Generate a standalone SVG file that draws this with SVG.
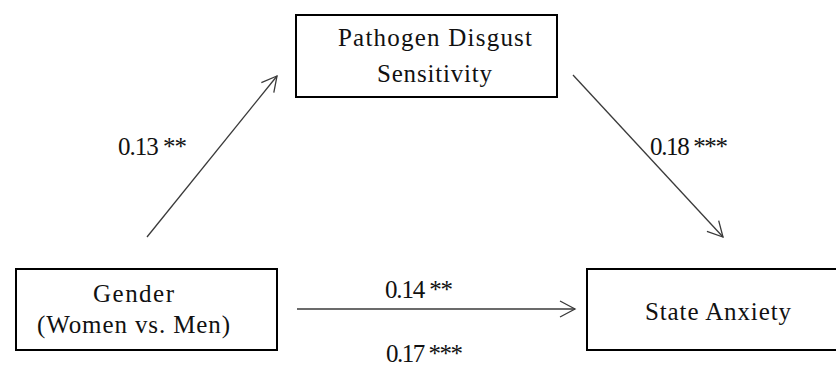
<svg xmlns="http://www.w3.org/2000/svg" width="836" height="367" viewBox="0 0 836 367">
<style>
.box{fill:#fff;stroke:#000;stroke-width:2}
.t{font-family:"Liberation Serif","Times New Roman",serif;font-size:25px;fill:#111}
.c{fill:none;stroke:#3a3a3a;stroke-width:1.3}
</style>
<defs>
<marker id="ah" markerUnits="userSpaceOnUse" markerWidth="20" markerHeight="20" refX="0" refY="0" viewBox="-16 -10 18 20" orient="auto">
<path d="M-15,-8 L0,0 L-15,8" fill="none" stroke="#3a3a3a" stroke-width="1.3"/>
</marker>
</defs>
<rect width="836" height="367" fill="#fff"/>
<g id="connectors">
<line class="c" x1="147" y1="237" x2="277" y2="76" marker-end="url(#ah)"/>
<line class="c" x1="573" y1="75" x2="723" y2="237" marker-end="url(#ah)"/>
<line class="c" x1="297" y1="309" x2="575" y2="309" marker-end="url(#ah)"/>
<text class="t" x="118" y="155" textLength="69" lengthAdjust="spacing">0.13 **</text>
<text class="t" x="650" y="155" textLength="78" lengthAdjust="spacing">0.18 ***</text>
<text class="t" x="385" y="298" textLength="68" lengthAdjust="spacing">0.14 **</text>
<text class="t" x="386" y="362" textLength="77" lengthAdjust="spacing">0.17 ***</text>
</g>
<g id="pathogen">
<rect class="box" x="296" y="15" width="261" height="82"/>
<text class="t" x="338" y="46" textLength="194" lengthAdjust="spacing">Pathogen Disgust</text>
<text class="t" x="377" y="82" textLength="115" lengthAdjust="spacing">Sensitivity</text>
</g>
<g id="gender">
<rect class="box" x="16" y="269" width="261" height="81"/>
<text class="t" x="93" y="302" textLength="81" lengthAdjust="spacing">Gender</text>
<text class="t" x="37" y="333" textLength="193" lengthAdjust="spacing">(Women vs. Men)</text>
</g>
<g id="anxiety">
<rect class="box" x="587" y="269" width="262" height="81"/>
<text class="t" x="645" y="320" textLength="146" lengthAdjust="spacing">State Anxiety</text>
</g>
</svg>
